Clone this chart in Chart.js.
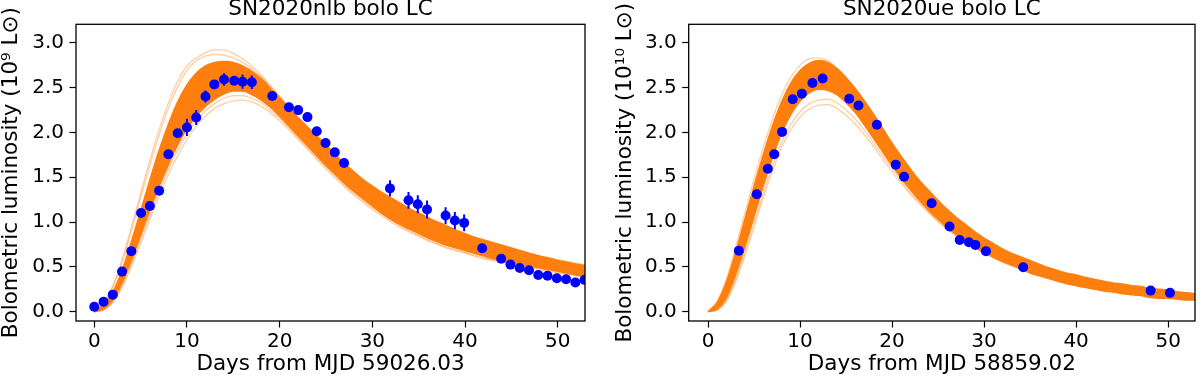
<!DOCTYPE html>
<html><head><meta charset="utf-8">
<script src="https://cdn.jsdelivr.net/npm/chart.js@4.4.1/dist/chart.umd.min.js"></script>
<style>
html,body{margin:0;padding:0;background:#fff;}
#wrap{display:flex;width:1200px;height:377px;}
canvas{display:block;}
</style></head><body>
<div id="wrap"><canvas id="c1" width="600" height="377"></canvas><canvas id="c2" width="600" height="377"></canvas></div>
<script>
// ---------- shared ----------
const modelDays = [0,1,2,3,4,5,6,7,8,9,10,11,12,13,14,15,16,17,18,19,20,21,22,23,24,25,26,27,28,29,30,31,32,33,34,35,36,37,38,39,40,41,42,43,44,45,46,47,48,49,50,51,52,53];
const xTicks = [0,10,20,30,40,50];
const yTicks = [0.0,0.5,1.0,1.5,2.0,2.5,3.0];

// ---------- SN2020nlb ----------
const nlbTitle = 'SN2020nlb bolo LC';
const nlbXLabel = 'Days from MJD 59026.03';
const nlbYLabel = 'Bolometric luminosity (10⁹ L⊙)';
const nlbDays = [0.0,1.0,2.0,3.0,4.0,5.05,6.0,7.0,8.0,9.0,10.0,11.0,12.0,12.95,14.0,15.1,16.0,17.0,19.2,21.0,22.0,23.0,24.0,24.95,25.95,26.95,31.9,33.9,34.9,35.9,37.9,38.9,39.9,41.85,43.9,44.9,45.9,46.9,47.9,48.9,49.9,50.9,51.9,52.9];
const nlbLum  = [0.055,0.11,0.19,0.447,0.675,1.10,1.178,1.35,1.756,1.99,2.055,2.165,2.40,2.535,2.59,2.575,2.565,2.558,2.405,2.28,2.248,2.17,2.013,1.882,1.777,1.658,1.375,1.242,1.198,1.14,1.072,1.016,0.99,0.708,0.59,0.525,0.487,0.462,0.41,0.40,0.372,0.362,0.325,0.355];
const nlbErr  = [0.02,0.02,0.02,0.02,0.02,0.03,0.04,0.03,0.03,0.04,0.097,0.084,0.067,0.04,0.07,0.04,0.08,0.075,0.03,0.03,0.03,0.03,0.03,0.03,0.03,0.03,0.09,0.093,0.1,0.1,0.093,0.097,0.093,0.03,0.02,0.02,0.02,0.02,0.02,0.02,0.02,0.02,0.02,0.02];
const nlbBandUpper = [0.00,0.08,0.22,0.46,0.78,1.12,1.47,1.80,2.09,2.34,2.53,2.66,2.74,2.78,2.79,2.78,2.74,2.68,2.60,2.49,2.38,2.27,2.16,2.06,1.96,1.86,1.75,1.65,1.56,1.47,1.40,1.33,1.27,1.21,1.15,1.10,1.05,1.00,0.96,0.91,0.87,0.83,0.80,0.77,0.74,0.71,0.68,0.65,0.62,0.60,0.57,0.55,0.53,0.51];
const nlbBandLower = [0.00,0.03,0.13,0.32,0.57,0.85,1.13,1.40,1.64,1.86,2.04,2.18,2.29,2.37,2.43,2.46,2.46,2.42,2.36,2.28,2.18,2.07,1.96,1.85,1.74,1.63,1.53,1.43,1.34,1.26,1.18,1.10,1.03,0.97,0.92,0.87,0.82,0.78,0.74,0.71,0.68,0.65,0.62,0.59,0.57,0.55,0.53,0.51,0.49,0.47,0.45,0.43,0.41,0.39];
const nlbModelHi1 = [0.00,0.10,0.29,0.58,0.94,1.32,1.69,2.03,2.33,2.57,2.74,2.83,2.89,2.92,2.92,2.88,2.82,2.74,2.64,2.52,2.40,2.28,2.16,2.05,1.94,1.83,1.73,1.63,1.54,1.46,1.38,1.31,1.24,1.18,1.12,1.07,1.02,0.97,0.93,0.89,0.85,0.81,0.78,0.75,0.72,0.69,0.66,0.63,0.61,0.58,0.56,0.54,0.52,0.50];
const nlbModelHi2 = [0.00,0.09,0.27,0.55,0.90,1.27,1.63,1.97,2.27,2.51,2.69,2.80,2.85,2.87,2.86,2.83,2.78,2.71,2.62,2.51,2.40,2.28,2.17,2.06,1.95,1.85,1.75,1.65,1.56,1.48,1.40,1.33,1.26,1.20,1.14,1.09,1.04,0.99,0.95,0.91,0.87,0.83,0.80,0.77,0.74,0.71,0.68,0.65,0.62,0.60,0.58,0.56,0.54,0.52];
const nlbModelLo1 = [0.00,0.02,0.10,0.27,0.50,0.76,1.03,1.29,1.53,1.74,1.92,2.07,2.18,2.27,2.32,2.35,2.36,2.34,2.29,2.22,2.13,2.03,1.92,1.81,1.70,1.59,1.49,1.39,1.30,1.22,1.14,1.07,1.00,0.94,0.89,0.84,0.79,0.75,0.71,0.68,0.65,0.62,0.59,0.57,0.55,0.53,0.51,0.49,0.47,0.45,0.43,0.42,0.40,0.38];
const nlbModelLo2 = [0.00,0.02,0.11,0.29,0.53,0.80,1.08,1.35,1.59,1.80,1.98,2.13,2.24,2.32,2.38,2.41,2.41,2.38,2.33,2.25,2.16,2.05,1.94,1.83,1.72,1.61,1.51,1.41,1.32,1.24,1.16,1.09,1.02,0.96,0.90,0.85,0.80,0.76,0.72,0.69,0.66,0.63,0.60,0.58,0.56,0.54,0.52,0.50,0.48,0.46,0.44,0.42,0.41,0.39];

// ---------- SN2020ue ----------
const ueTitle = 'SN2020ue bolo LC';
const ueXLabel = 'Days from MJD 58859.02';
const ueYLabel = 'Bolometric luminosity (10¹⁰ L⊙)';
const ueDays = [3.35,5.3,6.5,7.2,8.05,9.2,10.2,11.35,12.45,15.35,16.35,18.35,20.4,21.3,24.3,26.25,27.35,28.35,29.05,30.2,34.25,48.1,50.2];
const ueLum  = [0.68,1.31,1.595,1.755,2.005,2.37,2.43,2.55,2.60,2.375,2.30,2.085,1.64,1.505,1.21,0.95,0.80,0.775,0.745,0.675,0.495,0.235,0.21];
const ueBandUpper = [0.00,0.10,0.33,0.66,1.03,1.40,1.75,2.07,2.34,2.55,2.69,2.77,2.80,2.78,2.71,2.61,2.49,2.35,2.20,2.04,1.88,1.73,1.59,1.46,1.35,1.24,1.14,1.05,0.97,0.89,0.82,0.76,0.70,0.65,0.61,0.57,0.53,0.49,0.46,0.43,0.41,0.38,0.36,0.34,0.32,0.31,0.29,0.28,0.26,0.25,0.24,0.22,0.21,0.20];
const ueBandLower = [0.00,0.03,0.16,0.41,0.72,1.06,1.40,1.72,1.99,2.20,2.35,2.44,2.48,2.47,2.42,2.33,2.22,2.08,1.93,1.78,1.63,1.49,1.36,1.24,1.13,1.03,0.94,0.86,0.79,0.72,0.66,0.61,0.56,0.52,0.48,0.43,0.40,0.37,0.34,0.31,0.29,0.27,0.25,0.23,0.22,0.20,0.19,0.18,0.16,0.15,0.15,0.14,0.13,0.13];
const ueModelHi1 = [0.00,0.12,0.37,0.72,1.10,1.48,1.83,2.15,2.42,2.62,2.75,2.82,2.83,2.80,2.72,2.61,2.48,2.33,2.17,2.00,1.84,1.69,1.55,1.42,1.31,1.20,1.10,1.01,0.93,0.86,0.79,0.73,0.68,0.63,0.59,0.55,0.51,0.48,0.45,0.42,0.40,0.37,0.35,0.33,0.31,0.30,0.28,0.27,0.25,0.24,0.23,0.22,0.21,0.20];
const ueModelLo1 = [0.00,0.02,0.12,0.33,0.62,0.94,1.27,1.57,1.83,2.03,2.17,2.26,2.30,2.31,2.27,2.19,2.09,1.97,1.84,1.70,1.56,1.43,1.31,1.20,1.10,1.00,0.92,0.84,0.77,0.71,0.65,0.60,0.55,0.51,0.47,0.44,0.41,0.38,0.35,0.33,0.31,0.29,0.27,0.25,0.24,0.22,0.21,0.20,0.19,0.18,0.17,0.16,0.15,0.14];
const ueModelLo2 = [0.00,0.02,0.13,0.36,0.66,0.99,1.32,1.63,1.89,2.09,2.23,2.32,2.36,2.37,2.33,2.25,2.15,2.02,1.88,1.74,1.60,1.46,1.33,1.22,1.11,1.01,0.93,0.85,0.78,0.72,0.66,0.61,0.56,0.52,0.48,0.44,0.41,0.38,0.35,0.33,0.31,0.29,0.27,0.25,0.23,0.22,0.21,0.20,0.18,0.17,0.16,0.15,0.14,0.13];

// ---------- helpers ----------
const ORANGE = '#ff7f0e';
const ORANGE_LIGHT = 'rgba(255,127,14,0.38)';
const BLUE = '#0000ff';
Chart.defaults.font.family = "'DejaVu Sans', sans-serif";
Chart.defaults.color = '#000';

function pts(xs, ys){ return xs.map((x,i)=>({x:x, y:ys[i]})); }

const errorBars = {
  id:'errorBars',
  beforeDatasetDraw(chart, args){
    if (args.index !== 0) return;
    const ds = chart.data.datasets[0];
    if (!ds.errors) return;
    const {ctx, chartArea:a} = chart;
    const xs = chart.scales.x, ys = chart.scales.y;
    ctx.save();
    ctx.beginPath(); ctx.rect(a.left, a.top, a.right-a.left, a.bottom-a.top); ctx.clip();
    ctx.strokeStyle = BLUE; ctx.lineWidth = 2;
    ds.data.forEach((p,i)=>{
      const e = ds.errors[i];
      const px = xs.getPixelForValue(p.x);
      ctx.beginPath();
      ctx.moveTo(px, ys.getPixelForValue(p.y - e));
      ctx.lineTo(px, ys.getPixelForValue(p.y + e));
      ctx.stroke();
    });
    ctx.restore();
  }
};
const frame = {
  id:'frame',
  afterLayout(chart){
    const a = chart.chartArea;
    if (chart.titleBlock){ chart.titleBlock.left = a.left; chart.titleBlock.right = a.right; chart.titleBlock.width = a.right - a.left; }
  },
  afterDraw(chart){
    const {ctx, chartArea:a} = chart;
    ctx.save(); ctx.strokeStyle = '#000'; ctx.lineWidth = 1.3;
    ctx.strokeRect(a.left, a.top, a.right-a.left, a.bottom-a.top);
    ctx.restore();
  }
};

function lineDs(data, color, width, extra){
  return Object.assign({type:'line', data:data, borderColor:color, borderWidth:width, pointRadius:0, fill:false, cubicInterpolationMode:'monotone'}, extra||{});
}

function makeChart(id, cfg){
  const datasets = [
    {type:'line', data:pts(cfg.days, cfg.lum), errors:cfg.err, showLine:false, pointRadius:5, pointBackgroundColor:BLUE, pointBorderColor:BLUE, pointBorderWidth:0},
  ];
  cfg.light.forEach(arr=>datasets.push(lineDs(pts(modelDays, arr), ORANGE_LIGHT, 1.3)));
  datasets.push(lineDs(pts(modelDays, cfg.upper), ORANGE, 1.5, {fill:'+1', backgroundColor:ORANGE}));
  datasets.push(lineDs(pts(modelDays, cfg.lower), ORANGE, 1.5));
  return new Chart(document.getElementById(id), {
    type:'line',
    data:{datasets:datasets},
    options:{
      responsive:false, animation:false, devicePixelRatio:1, events:[],
      layout:{padding:{left:cfg.padL, right:cfg.padR, top:0, bottom:0}},
      plugins:{
        legend:{display:false}, tooltip:{enabled:false},
        title:{display:true, text:cfg.title, color:'#000', font:{size:21.5, weight:'normal', lineHeight:0.87}, padding:{top:0,bottom:5.6}}
      },
      scales:{
        x:{type:'linear', min:cfg.xmin, max:cfg.xmax,
           afterBuildTicks:(s)=>{ s.ticks = xTicks.map(v=>({value:v})); },
           afterFit:(s)=>{ s.height = 56; },
           ticks:{font:{size:20}, color:'#000', padding:2.5, maxRotation:0, callback:(v)=>String(v)},
           grid:{drawOnChartArea:false, drawTicks:true, tickLength:6.5, tickColor:'#000', tickWidth:1.2},
           border:{display:false},
           title:{display:true, text:cfg.xlabel, color:'#000', font:{size:21.5, lineHeight:1}, padding:{top:0,bottom:1.5}}
        },
        y:{type:'linear', min:-0.104, max:3.205,
           afterBuildTicks:(s)=>{ s.ticks = yTicks.map(v=>({value:v})); },
           afterFit:(s)=>{ s.width = cfg.yw; },
           ticks:{font:{size:20}, color:'#000', padding:5.5, callback:(v)=>v.toFixed(1)},
           grid:{drawOnChartArea:false, drawTicks:true, tickLength:6.5, tickColor:'#000', tickWidth:1.2},
           border:{display:false},
           title:{display:true, text:cfg.ylabel, color:'#000', font:{size:21.5, lineHeight:1}, padding:{top:cfg.ytp, bottom:0}}
        }
      }
    },
    plugins:[errorBars, frame]
  });
}

makeChart('c1', {title:nlbTitle, xlabel:nlbXLabel, ylabel:nlbYLabel, days:nlbDays, lum:nlbLum, err:nlbErr,
  upper:nlbBandUpper, lower:nlbBandLower, light:[nlbModelHi1, nlbModelHi2, nlbModelLo1, nlbModelLo2],
  padL:0, padR:15, yw:76, ytp:1, xmin:-1.97, xmax:52.94});
makeChart('c2', {title:ueTitle, xlabel:ueXLabel, ylabel:ueYLabel, days:ueDays, lum:ueLum, err:null,
  upper:ueBandUpper, lower:ueBandLower, light:[ueModelHi1, ueModelLo1, ueModelLo2],
  padL:14.7, padR:2.3, yw:74, ytp:0.4, xmin:-2.1, xmax:52.92});
</script>
</body></html>
